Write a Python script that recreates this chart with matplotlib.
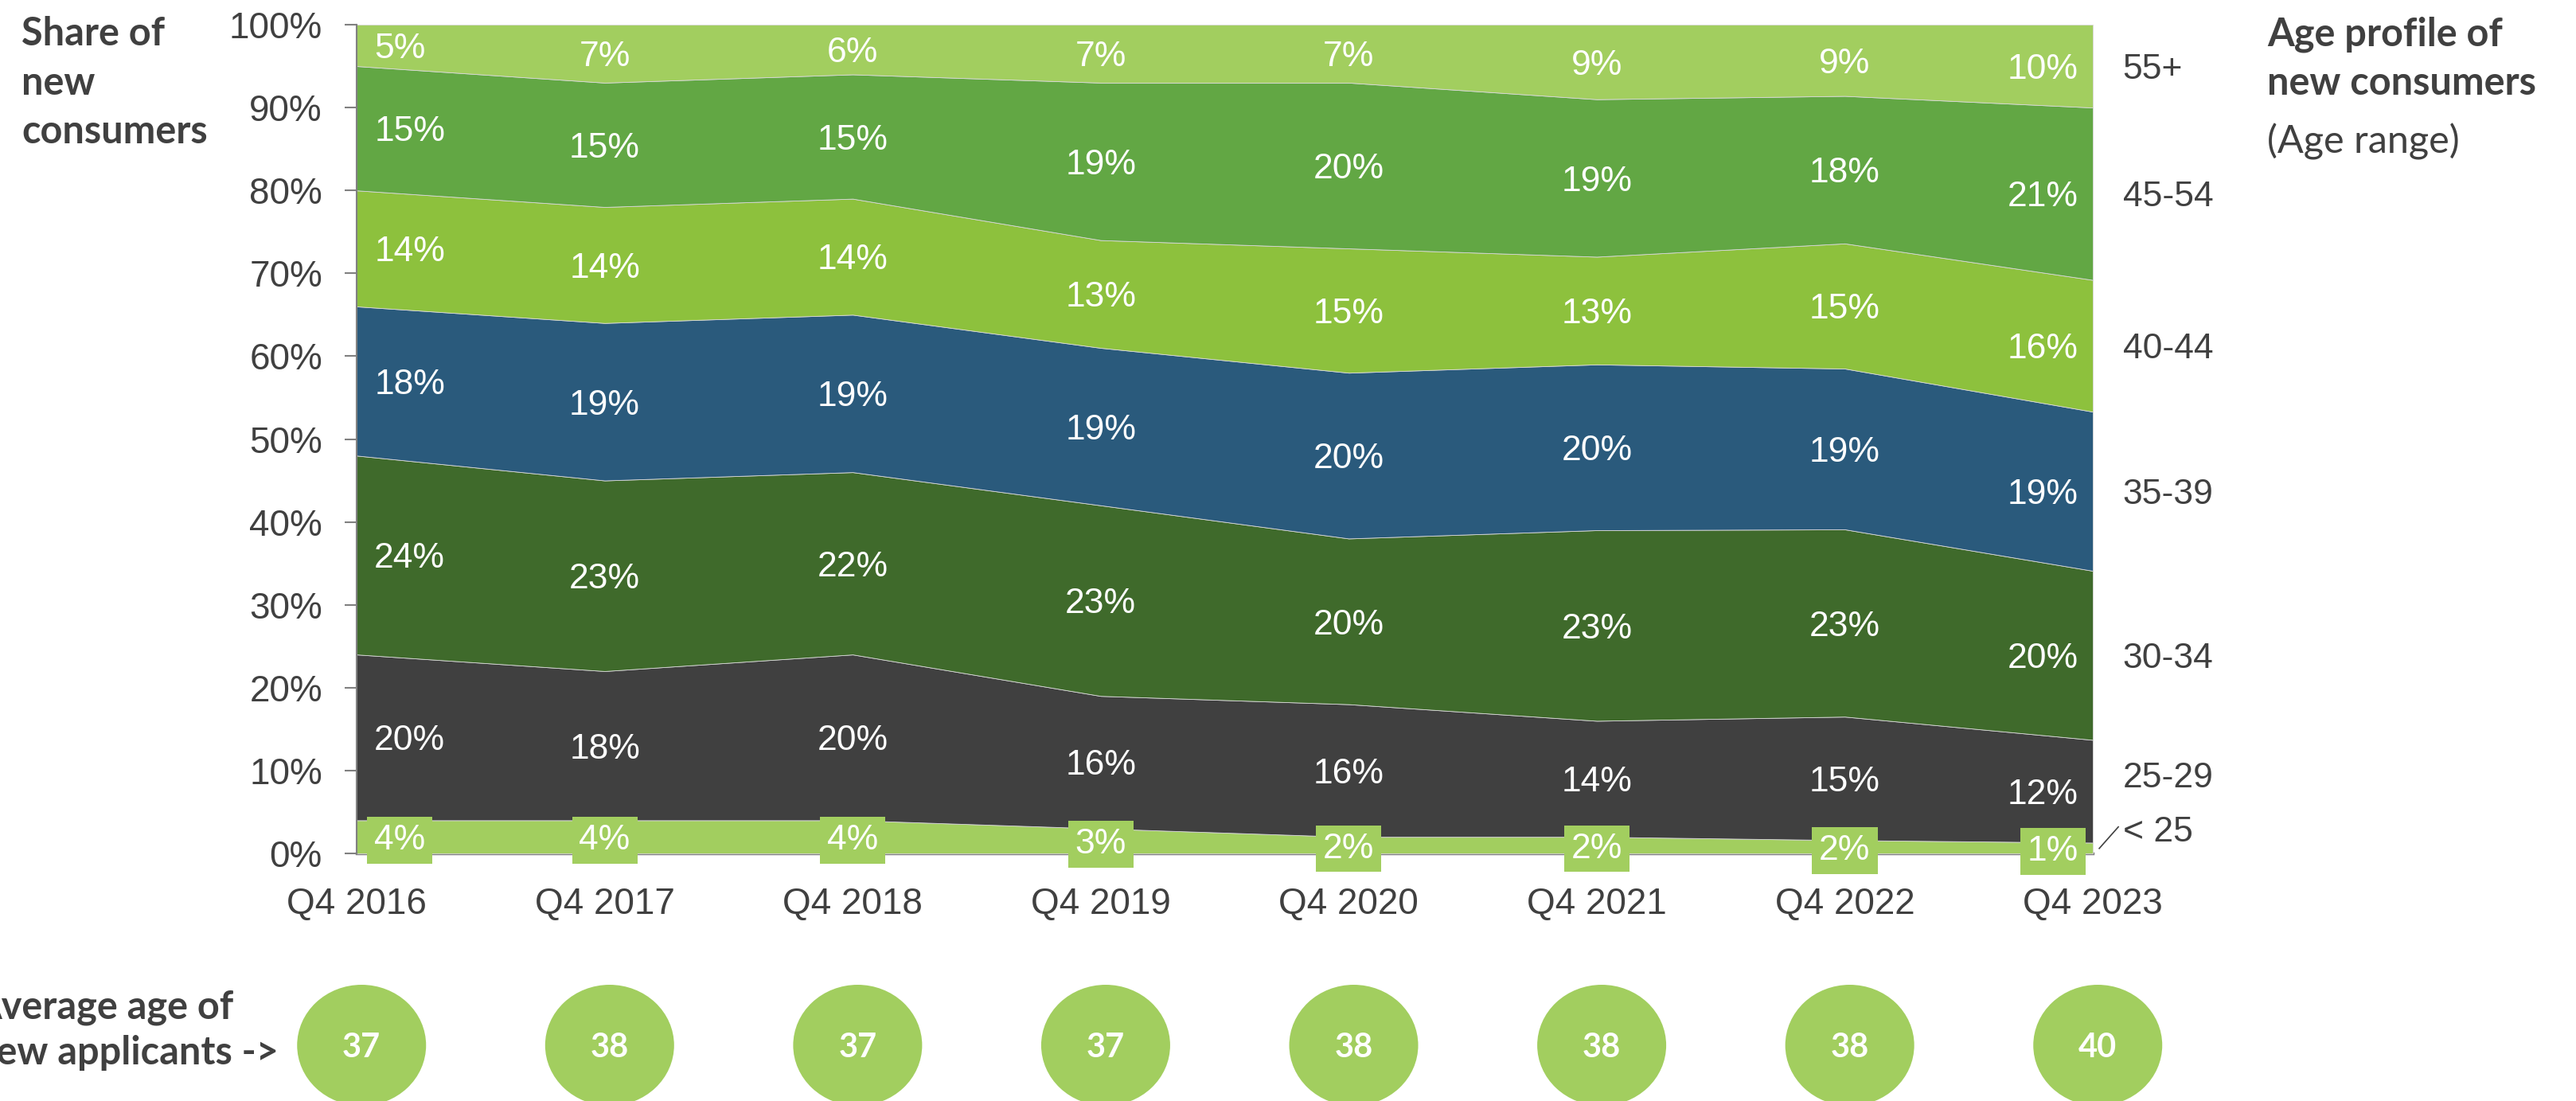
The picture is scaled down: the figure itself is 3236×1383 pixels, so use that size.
import matplotlib
matplotlib.use("Agg")
import matplotlib.pyplot as plt
from matplotlib.patches import Ellipse
import numpy as np

# dados
quarters = ["Q4 2016", "Q4 2017", "Q4 2018", "Q4 2019", "Q4 2020", "Q4 2021", "Q4 2022", "Q4 2023"]
age_groups = ["< 25", "25-29", "30-34", "35-39", "40-44", "45-54", "55+"]
under_25 = [4, 4, 4, 3, 2, 2, 1.6, 1.3]
age_25_29 = [20, 18, 20, 16, 16, 14, 14.9, 12.4]
age_30_34 = [24, 23, 22, 23, 20, 23, 22.6, 20.4]
age_35_39 = [18, 19, 19, 19, 20, 20, 19.4, 19.2]
age_40_44 = [14, 14, 14, 13, 15, 13, 15.1, 15.9]
age_45_54 = [15, 15, 15, 19, 20, 19, 17.8, 20.8]
age_55_plus = [5, 7, 6, 7, 7, 9, 8.6, 10.0]
average_age = [37, 38, 37, 37, 38, 38, 38, 40]

cores = ["#A2CE5F", "#404040", "#3F6A2B", "#2A5A7C", "#8DC13D", "#62A744", "#A2CE5F"]
cinza = "#404040"
regular = "Liberation Sans"
negrito = "Lato"

W, H = 3236, 1383
fig = plt.figure(figsize=(W / 100, H / 100), dpi=100)

# eixo principal (posicao em pixels da referencia)
left, right, top, bottom = 448, 2629, 31, 1072
ax = fig.add_axes([left / W, 1 - bottom / H, (right - left) / W, (bottom - top) / H])

series = [under_25, age_25_29, age_30_34, age_35_39, age_40_44, age_45_54, age_55_plus]
x = np.arange(len(quarters))
ax.stackplot(x, *series, colors=cores, edgecolor="#d8d8d8", linewidth=0.6)

ax.set_xlim(0, len(quarters) - 1)
ax.set_ylim(0, 100)
ax.set_yticks(range(0, 101, 10))
ax.set_yticklabels([f"{v}%" for v in range(0, 101, 10)], fontfamily=regular, fontsize=33, color=cinza)
ax.set_xticks(x)
ax.set_xticklabels(quarters, fontfamily=regular, fontsize=33, color=cinza)
ax.tick_params(axis="y", length=11, width=1.5, color="#808080", pad=20)
ax.tick_params(axis="x", length=0, pad=30)
for s in ["top", "right"]:
    ax.spines[s].set_visible(False)
ax.spines["left"].set_color("#808080")
ax.spines["left"].set_linewidth(1.5)
ax.spines["bottom"].set_color("#808080")
ax.spines["bottom"].set_linewidth(2.5)
ax.spines["bottom"].set_zorder(0.5)

# rotulos dentro das faixas
cum = np.cumsum(np.array(series), axis=0)
base = cum - np.array(series)
for i in range(len(quarters)):
    if i == 0:
        ha, dx = "left", 16
    elif i == len(quarters) - 1:
        ha, dx = "right", -13
    else:
        ha, dx = "center", 0
    for k, s in enumerate(series):
        yc = (base[k, i] + cum[k, i]) / 2
        kw = {}
        if k == 0:
            kw["bbox"] = dict(boxstyle="square,pad=0.2", fc=cores[0], ec="none")
        ax.annotate(f"{round(s[i])}%", (i, yc), xytext=(dx, 0), textcoords="offset points",
                    ha=ha, va="center_baseline", fontfamily=regular, fontsize=32, color="white",
                    zorder=5, **kw)

# rotulos das idades a direita
ypos = (base[:, -1] + cum[:, -1]) / 2
ypos[0] = 3.0
ypos[1] = 9.5
for k, nome in enumerate(age_groups):
    ax.annotate(nome, (len(quarters) - 1, ypos[k]), xytext=(27, 0), textcoords="offset points",
                ha="left", va="center_baseline", fontfamily=regular, fontsize=32, color=cinza,
                annotation_clip=False)
ax.plot([7.026, 7.103], [0.6, 3.2], color=cinza, lw=1.2, clip_on=False)

# titulos
fig.text(27 / W, 1 - 20 / H, "Share of\nnew\nconsumers", ha="left", va="top",
         fontfamily=negrito, fontweight="bold", fontsize=35, color=cinza, linespacing=1.45)
fig.text(2848 / W, 1 - 20 / H, "Age profile of\nnew consumers", ha="left", va="top",
         fontfamily=negrito, fontweight="bold", fontsize=35, color=cinza, linespacing=1.45)
fig.text(2848 / W, 1 - 155 / H, "(Age range)", ha="left", va="top",
         fontfamily=negrito, fontsize=35, color=cinza)

# idade media nos circulos
ax2 = fig.add_axes([left / W, 0, (right - left) / W, 200 / H])
ax2.set_xlim(0, len(quarters) - 1)
ax2.set_ylim(0, 200)
ax2.axis("off")
px = (right - left) / (len(quarters) - 1)
for i, a in enumerate(average_age):
    ax2.add_patch(Ellipse((i + 0.02, 70), 162 / px, 152, fc=cores[0], ec="none", clip_on=False))
    ax2.text(i + 0.02, 70, str(a), ha="center", va="center_baseline", fontfamily=negrito,
             fontweight="bold", fontsize=30, color="white")

fig.text(-32 / W, 1 - 1294 / H, "Average age of\nnew applicants ->", ha="left", va="center",
         fontfamily=negrito, fontweight="bold", fontsize=35, color=cinza, linespacing=1.3)

fig.savefig("out.png", dpi=100)
